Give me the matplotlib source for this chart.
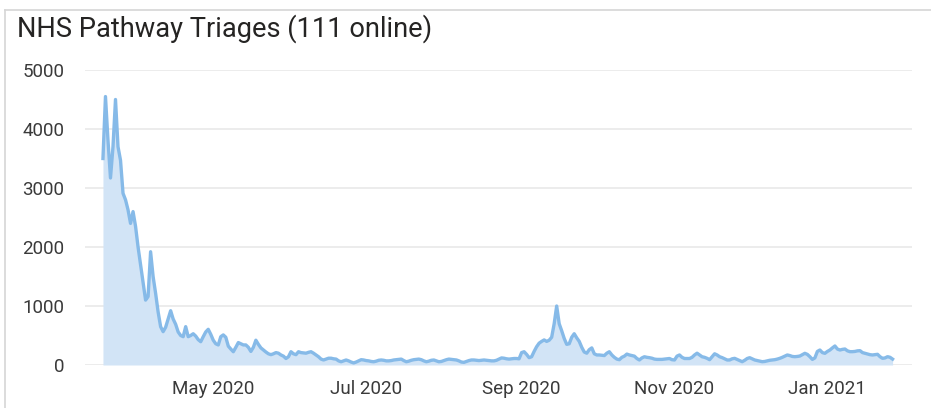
import matplotlib.pyplot as plt
import matplotlib.dates as mdates
import pandas as pd
import numpy as np

# daily triages, from 18 Mar 2020
start_date = '2020-03-18'
triages = [
    3500, 4550, 3810, 3170, 3700, 4500, 3700, 3470, 2910, 2800,
    2630, 2400, 2600, 2350, 2000, 1700, 1400, 1100, 1160, 1920,
    1500, 1215, 900, 650, 565, 640, 780, 920, 780, 690,
    560, 500, 480, 650, 480, 500, 530, 490, 430, 395,
    480, 560, 605, 520, 420, 360, 340, 480, 510, 470,
    320, 270, 225, 300, 380, 360, 340, 340, 300, 230,
    300, 420, 350, 290, 255, 220, 190, 175, 190, 210,
    200, 170, 150, 110, 140, 225, 190, 175, 225, 210,
    205, 200, 215, 225, 200, 170, 140, 100, 85, 100,
    115, 115, 105, 100, 70, 55, 70, 85, 70, 50,
    35, 50, 70, 90, 85, 75, 70, 60, 55, 65,
    80, 85, 80, 70, 70, 75, 85, 90, 95, 100,
    75, 55, 65, 80, 90, 95, 100, 90, 70, 55,
    65, 80, 85, 70, 55, 60, 75, 90, 100, 95,
    90, 85, 70, 50, 45, 60, 75, 85, 85, 80,
    75, 80, 85, 80, 75, 70, 70, 80, 100, 120,
    115, 105, 100, 105, 110, 110, 105, 210, 225, 180,
    124, 140, 230, 310, 370, 400, 425, 400, 420, 470,
    700, 1000, 700, 580, 450, 350, 360, 470, 530, 460,
    400, 300, 220, 200, 260, 290, 190, 170, 170, 165,
    160, 200, 225, 170, 130, 100, 90, 130, 150, 185,
    170, 160, 150, 110, 85, 120, 140, 130, 124, 115,
    100, 95, 95, 95, 100, 105, 110, 90, 85, 150,
    170, 130, 110, 110, 110, 130, 170, 200, 170, 140,
    130, 113, 90, 140, 190, 170, 140, 125, 105, 85,
    85, 105, 113, 95, 75, 56, 80, 110, 124, 105,
    85, 75, 65, 56, 60, 70, 80, 85, 90, 100,
    113, 130, 150, 170, 160, 145, 141, 145, 152, 175,
    198, 180, 141, 95, 120, 230, 254, 210, 198, 230,
    254, 290, 322, 270, 254, 265, 271, 240, 226, 226,
    230, 240, 243, 210, 198, 185, 175, 170, 175, 181,
    140, 113, 120, 141, 130, 100,
]
tick_dates = ['2020-05-01', '2020-07-01', '2020-09-01', '2020-11-01', '2021-01-01']
y_ticks = [0, 1000, 2000, 3000, 4000, 5000]

dates = pd.date_range(start_date, periods=len(triages), freq='D')

fig = plt.figure(figsize=(9.31, 4.08), dpi=100)
ax = fig.add_axes([0.0913, 0.1054, 0.8883, 0.7230])

ax.fill_between(dates, triages, 0, color='#D2E4F6', linewidth=0)
ax.plot(dates, triages, color='#86BAE8', linewidth=2.4, solid_joinstyle='round')

ax.set_ylim(0, 5000)
ax.set_xlim(pd.Timestamp('2020-03-10 20:00'), pd.Timestamp('2021-02-03 18:00'))
ax.set_yticks(y_ticks)
ax.set_xticks(pd.to_datetime(tick_dates))
ax.xaxis.set_major_formatter(mdates.DateFormatter('%b %Y'))

ax.grid(axis='y', color='#EAEAEA', linewidth=1.3)
ax.grid(axis='x', visible=False)
ax.set_axisbelow(True)
for s in ax.spines.values():
    s.set_visible(False)
ax.tick_params(axis='y', length=0, pad=15, labelsize=13.5, labelcolor='#3A3A3A')
ax.tick_params(axis='x', length=0, pad=11, labelsize=13.5, labelcolor='#3A3A3A')
for lab in ax.get_xticklabels() + ax.get_yticklabels():
    lab.set_fontfamily('Roboto')

fig.text(0.0183, 0.910, 'NHS Pathway Triages (111 online)', fontsize=19.6,
         family='Roboto', color='#252423', va='baseline', ha='left')

# light frame round the visual
fig.add_artist(plt.Line2D([5/931, 5/931], [0, 1 - 10/408], transform=fig.transFigure,
                          color='#D6D6D6', linewidth=1.2))
fig.add_artist(plt.Line2D([5/931, 1], [1 - 10/408, 1 - 10/408], transform=fig.transFigure,
                          color='#D6D6D6', linewidth=1.2))

fig.savefig('out.png', dpi=100)
